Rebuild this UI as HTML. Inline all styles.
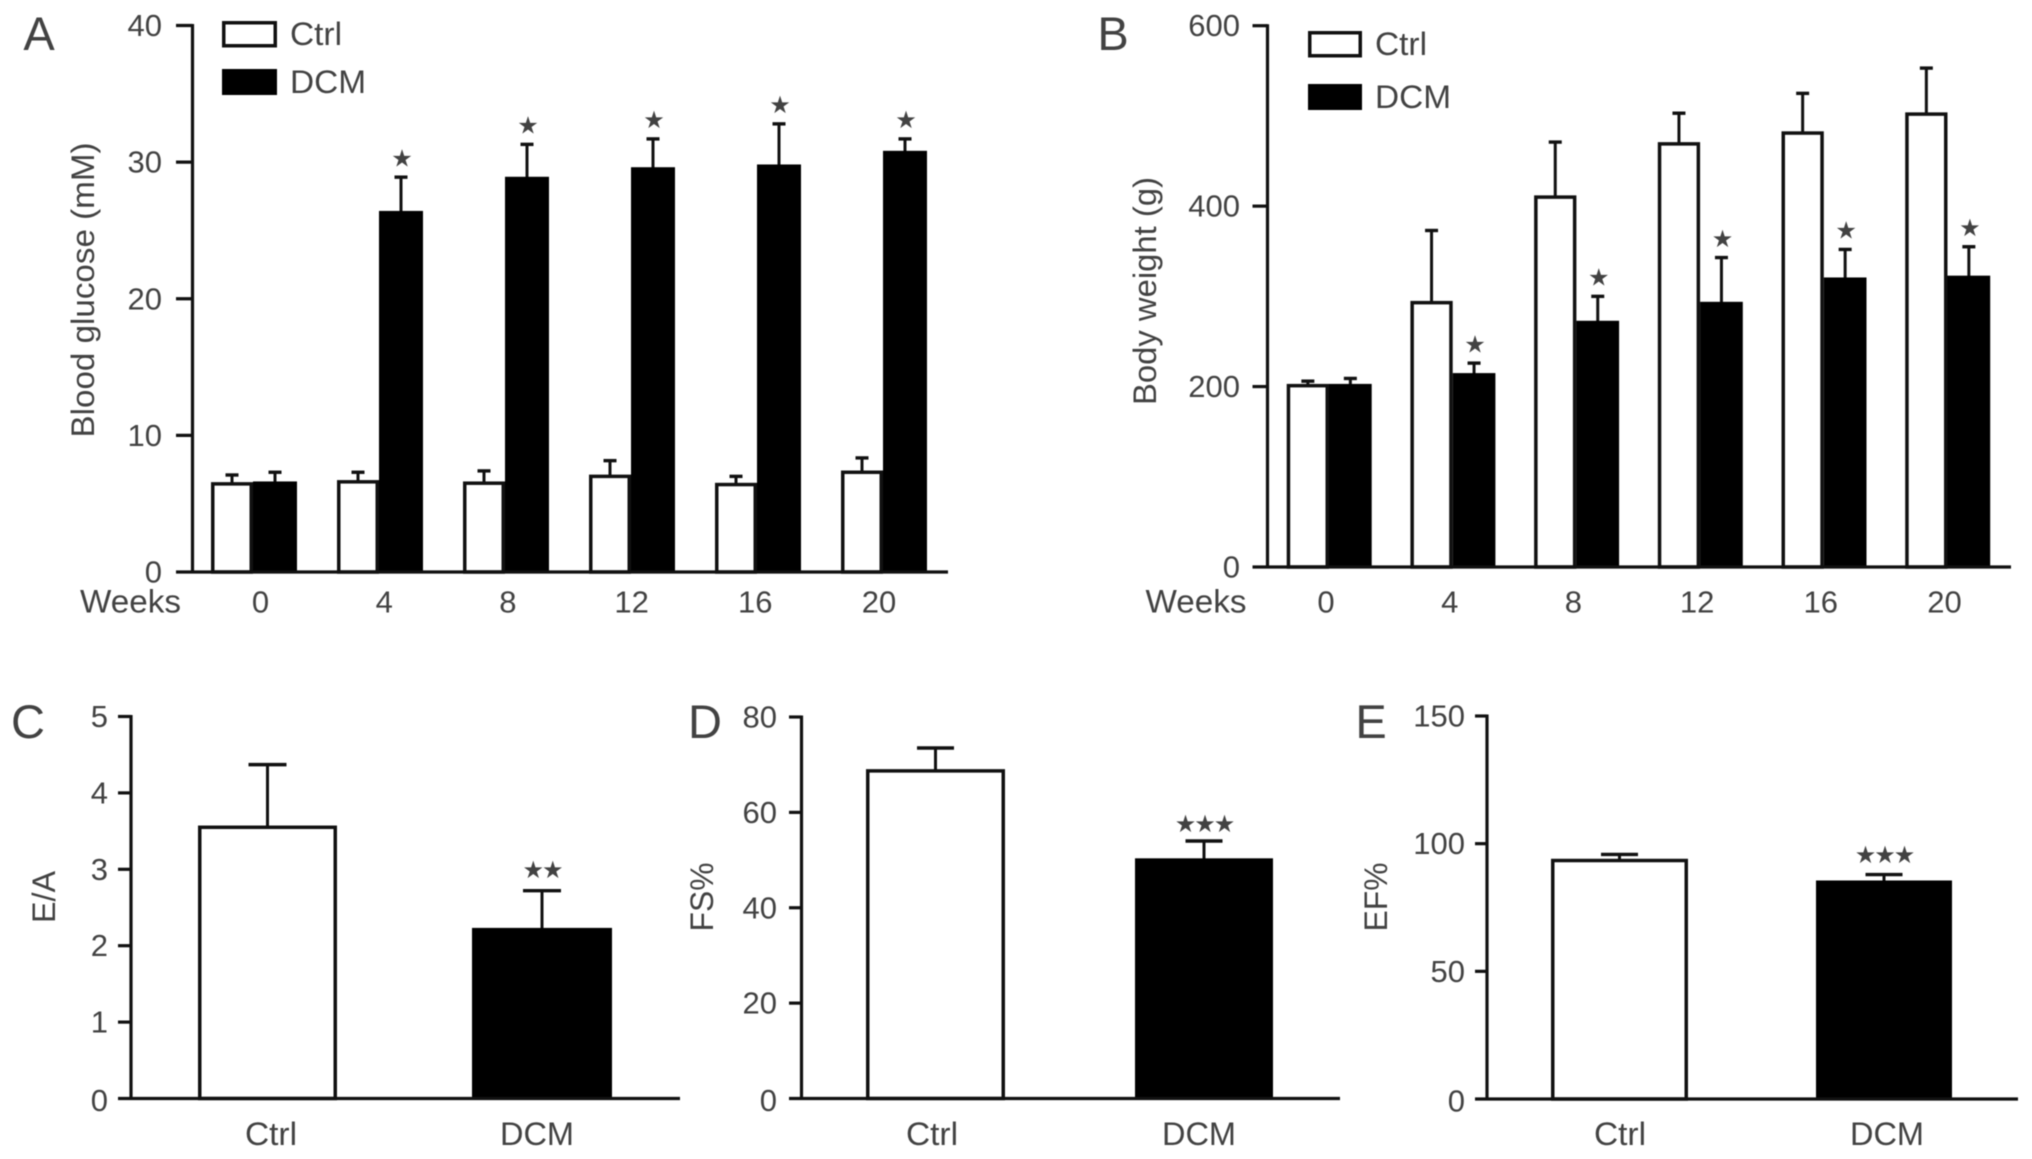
<!DOCTYPE html>
<html lang="en">
<head>
<meta charset="utf-8">
<title>Blood glucose, body weight and cardiac function in Ctrl and DCM groups</title>
<style>
  html, body { margin: 0; padding: 0; background: #fff; }
  svg { display: block; filter: blur(0.6px); }
  text { font-family: "Liberation Sans", "DejaVu Sans", sans-serif; fill: #424242; }
</style>
</head>
<body>
<svg id="figure" xmlns="http://www.w3.org/2000/svg" width="2032" height="1159" viewBox="0 0 2032 1159"></svg>
<script>
// Panel A: blood glucose (mM)
const weekLabels = ['0', '4', '8', '12', '16', '20'];
const glucoseTicks = [0, 10, 20, 30, 40];
const glucoseCtrl = [6.45, 6.6, 6.5, 7.0, 6.4, 7.3];
const glucoseCtrlErrTop = [7.1, 7.3, 7.4, 8.15, 7.0, 8.35];
const glucoseDcm = [6.5, 26.3, 28.8, 29.5, 29.7, 30.7];
const glucoseDcmErrTop = [7.3, 28.9, 31.3, 31.7, 32.8, 31.7];
const glucoseDcmStars = ['', '★', '★', '★', '★', '★'];

// Panel B: body weight (g)
const weightTicks = [0, 200, 400, 600];
const weightCtrl = [201, 293, 410, 469, 481, 502];
const weightCtrlErrTop = [206, 373, 471, 503, 525, 553];
const weightDcm = [201, 213, 271, 292, 319, 321];
const weightDcmErrTop = [209, 226, 300, 343, 352, 355];
const weightDcmStars = ['', '★', '★', '★', '★', '★'];

// Panels C, D, E: echocardiography
const groupLabels = ['Ctrl', 'DCM'];
const eaTicks = [0, 1, 2, 3, 4, 5];
const eaValues = [3.55, 2.21];
const eaErrTop = [4.37, 2.72];
const eaStars = ['', '★★'];
const fsTicks = [0, 20, 40, 60, 80];
const fsValues = [68.7, 50];
const fsErrTop = [73.5, 54];
const fsStars = ['', '★★★'];
const efTicks = [0, 50, 100, 150];
const efValues = [93.4, 84.9];
const efErrTop = [95.8, 87.9];
const efStars = ['', '★★★'];

const NS = 'http://www.w3.org/2000/svg';
const figure = document.getElementById('figure');
const INK = '#111';

function node(parent, tag, attrs, name) {
  const el = document.createElementNS(NS, tag);
  for (const k in attrs) el.setAttribute(k, attrs[k]);
  
  
  parent.appendChild(el);
  return el;
}
function label(parent, str, x, y, size, anchor, name, length) {
  const t = node(parent, 'text', { x: x, y: y, 'font-size': size, 'text-anchor': anchor }, name);
  if (length) {
    t.setAttribute('textLength', length);
    t.setAttribute('lengthAdjust', 'spacingAndGlyphs');
  }
  t.textContent = str;
  return t;
}
function line(parent, x1, y1, x2, y2, w, name) {
  return node(parent, 'line', { x1: x1, y1: y1, x2: x2, y2: y2, stroke: INK, 'stroke-width': w }, name);
}

function drawAxes(g, p, yScale) {
  line(g, p.axisX, yScale(p.ticks[p.ticks.length - 1]) - 1.5, p.axisX, p.y0, 3.2, 'y-axis-line');
  p.ticks.forEach(function (v) {
    const y = yScale(v);
    if (v !== 0) line(g, p.tickLeft, y, p.axisX, y, 3.2, 'y-tick-' + v);
    label(g, String(v), p.tickRight, y + 10.5 + (v === 0 ? p.zeroDrop : 0), 31, 'end', 'y-tick-label-' + v);
  });
  line(g, p.tickLeft, p.y0, p.baseEnd, p.y0, 3.2, 'x-axis-line');
  const title = label(g, p.title, 0, 0, 32, 'middle', 'y-axis-title', p.titleLen);
  title.setAttribute('transform', 'translate(' + p.titleX + ' ' + p.titleY + ') rotate(-90)');
  label(g, p.letter, p.letterX, p.letterY, 47, 'middle', 'panel-letter-' + p.letter);
}

function drawBar(g, left, width, value, errTop, star, filled, yScale, p, name) {
  const top = yScale(value);
  const cx = left + width / 2;
  const eTop = yScale(errTop);
  line(g, cx, top, cx, eTop, 3, name + '-error-stem');
  line(g, cx - p.capHalf, eTop, cx + p.capHalf, eTop, 3.4, name + '-error-cap');
  const bar = node(g, 'rect', filled
    ? { x: left, y: top - 1.75, width: width, height: p.y0 - top + 1.75, fill: '#000' }
    : { x: left + 1.75, y: top, width: width - 3.5, height: p.y0 - top, fill: '#fff', stroke: INK, 'stroke-width': 3.5 }, name);
  if (star) {
    const s = label(g, star, cx, eTop - p.starGap + 9.5, 24, 'middle', name + '-significance');
    s.setAttribute('letter-spacing', '-2');
  }
  return bar;
}

function drawGrouped(p) {
  const g = node(figure, 'g', {}, p.name);
  const yScale = function (v) { return p.y0 - (v / p.ticks[p.ticks.length - 1]) * (p.y0 - p.yTop); };
  p.cats.forEach(function (c, i) {
    const x = p.whiteLeft + i * p.step;
    drawBar(g, x, p.whiteW, p.ctrl[i], p.ctrlErr[i], '', false, yScale, p, 'ctrl-bar-week-' + c);
    drawBar(g, x + p.whiteW, p.blackW, p.dcm[i], p.dcmErr[i], p.stars[i], true, yScale, p, 'dcm-bar-week-' + c);
    label(g, c, p.catLeft + i * p.catStep, p.catY, 31, 'middle', 'x-tick-label-week-' + c);
  });
  drawAxes(g, p, yScale);
  label(g, 'Weeks', p.weeksX, p.catY, 32, 'middle', 'x-axis-title-weeks', 101);
  const lg = node(g, 'g', {}, 'legend');
  node(lg, 'rect', { x: p.legX + 1.75, y: p.legY1 + 1.75, width: p.legW - 3.5, height: 23, fill: '#fff', stroke: INK, 'stroke-width': 3.5 }, 'legend-swatch-ctrl');
  node(lg, 'rect', { x: p.legX, y: p.legY2, width: p.legW, height: 26, fill: '#000' }, 'legend-swatch-dcm');
  label(lg, 'Ctrl', p.legX + p.legW + 13, p.legY1 + 24, 32, 'start', 'legend-label-ctrl', 52);
  label(lg, 'DCM', p.legX + p.legW + 13, p.legY2 + 24, 32, 'start', 'legend-label-dcm', 76);
}

function drawPair(p) {
  const g = node(figure, 'g', {}, p.name);
  const yScale = function (v) { return p.y0 - (v / p.ticks[p.ticks.length - 1]) * (p.y0 - p.yTop); };
  groupLabels.forEach(function (c, i) {
    const left = p.barLeft + i * p.step;
    const w = i === 0 ? p.whiteW : p.blackW;
    drawBar(g, left, w, p.values[i], p.errTop[i], p.stars[i], i === 1, yScale, p, c.toLowerCase() + '-bar');
    label(g, c, p.catLeft + i * p.catStep, p.catY, 32, 'middle', 'x-tick-label-' + c.toLowerCase(), i === 0 ? 52 : 74);
  });
  drawAxes(g, p, yScale);
}

drawGrouped({
  name: 'panel-a-blood-glucose', letter: 'A', letterX: 39, letterY: 50,
  title: 'Blood glucose (mM)', titleX: 94, titleY: 290, titleLen: 295,
  axisX: 192.5, tickLeft: 176, tickRight: 162, baseEnd: 948, y0: 572, yTop: 25.5, zeroDrop: 0,
  ticks: glucoseTicks, cats: weekLabels, ctrl: glucoseCtrl, ctrlErr: glucoseCtrlErrTop,
  dcm: glucoseDcm, dcmErr: glucoseDcmErrTop, stars: glucoseDcmStars,
  whiteLeft: 211, whiteW: 42, blackW: 44, step: 126, capHalf: 6.5, starGap: 20.3,
  catLeft: 260.5, catStep: 123.7, catY: 612.5, weeksX: 130.5,
  legX: 222, legW: 55, legY1: 21, legY2: 69
});
drawGrouped({
  name: 'panel-b-body-weight', letter: 'B', letterX: 1113, letterY: 50,
  title: 'Body weight (g)', titleX: 1156, titleY: 291, titleLen: 228,
  axisX: 1267.5, tickLeft: 1252.5, tickRight: 1240, baseEnd: 2011, y0: 567, yTop: 25.7, zeroDrop: 0,
  ticks: weightTicks, cats: weekLabels, ctrl: weightCtrl, ctrlErr: weightCtrlErrTop,
  dcm: weightDcm, dcmErr: weightDcmErrTop, stars: weightDcmStars,
  whiteLeft: 1286.7, whiteW: 42.3, blackW: 42.7, step: 123.7, capHalf: 6.5, starGap: 20.3,
  catLeft: 1326, catStep: 123.7, catY: 612.5, weeksX: 1196,
  legX: 1308, legW: 54, legY1: 31, legY2: 84
});
drawPair({
  name: 'panel-c-e-a-ratio', letter: 'C', letterX: 28, letterY: 738,
  title: 'E/A', titleX: 55, titleY: 897, titleLen: 52,
  axisX: 131, tickLeft: 118, tickRight: 108, baseEnd: 680, y0: 1098.5, yTop: 716.5, zeroDrop: 2,
  ticks: eaTicks, values: eaValues, errTop: eaErrTop, stars: eaStars,
  barLeft: 198, whiteW: 139, blackW: 140, step: 274, capHalf: 19, starGap: 22,
  catLeft: 271, catStep: 266, catY: 1145
});
drawPair({
  name: 'panel-d-fractional-shortening', letter: 'D', letterX: 705, letterY: 738,
  title: 'FS%', titleX: 713, titleY: 897, titleLen: 69,
  axisX: 801.5, tickLeft: 789, tickRight: 777, baseEnd: 1340, y0: 1098.5, yTop: 717, zeroDrop: 2,
  ticks: fsTicks, values: fsValues, errTop: fsErrTop, stars: fsStars,
  barLeft: 866, whiteW: 139, blackW: 138, step: 269, capHalf: 18.5, starGap: 18.7,
  catLeft: 932, catStep: 267, catY: 1145
});
drawPair({
  name: 'panel-e-ejection-fraction', letter: 'E', letterX: 1371, letterY: 738,
  title: 'EF%', titleX: 1387, titleY: 897, titleLen: 69,
  axisX: 1487, tickLeft: 1475, tickRight: 1465, baseEnd: 2018, y0: 1099, yTop: 716, zeroDrop: 2,
  ticks: efTicks, values: efValues, errTop: efErrTop, stars: efStars,
  barLeft: 1551, whiteW: 137, blackW: 136, step: 265, capHalf: 18.5, starGap: 21,
  catLeft: 1620, catStep: 267, catY: 1145
});
</script>
</body>
</html>
